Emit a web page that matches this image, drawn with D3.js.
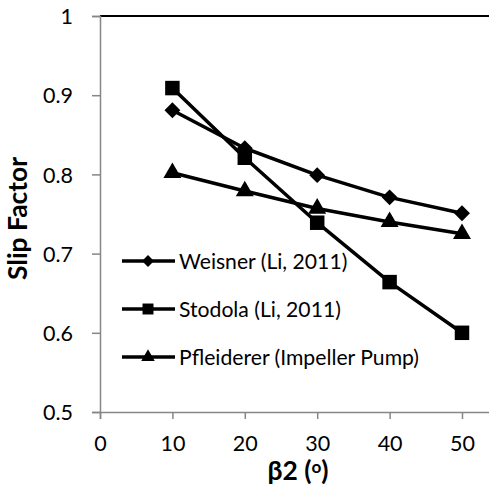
<!DOCTYPE html>
<html>
<head>
<meta charset="utf-8">
<script src="https://cdn.jsdelivr.net/npm/d3@7"></script>
<style>
  html, body { margin: 0; padding: 0; background: #fff; }
  svg { display: block; font-family: Lato, "Open Sans", sans-serif; }
</style>
</head>
<body>
<svg id="chart" width="489" height="485"></svg>
<script>
// Blade exit angle (degrees) and slip factor predicted by each model
const beta2 = [10, 20, 30, 40, 50];
const weisner = [0.881, 0.833, 0.799, 0.771, 0.751];
const stodola = [0.909, 0.821, 0.739, 0.664, 0.600];
const pfleiderer = [0.802, 0.779, 0.757, 0.740, 0.725];

const seriesNames = ["Weisner (Li, 2011)", "Stodola (Li, 2011)", "Pfleiderer (Impeller Pump)"];
const xTicks = [0, 10, 20, 30, 40, 50];
const yTicks = [0.5, 0.6, 0.7, 0.8, 0.9, 1];

const series = [
  { name: seriesNames[0], values: weisner, symbol: d3.symbolDiamond2 },
  { name: seriesNames[1], values: stodola, symbol: d3.symbolSquare },
  { name: seriesNames[2], values: pfleiderer, symbol: d3.symbolTriangle }
];

const svg = d3.select("#chart");
const plotLeft = 100, plotTop = 16, plotBottom = 412;
const tickStep = 72.4;

const x = d3.scaleLinear().domain([0, 60]).range([plotLeft, plotLeft + 6 * tickStep]);
const y = d3.scaleLinear().domain([0.5, 1]).range([plotBottom, plotTop]);

const axisGrey = "#868686";

// pick a font size so that a sample string spans the wanted width
function fitFontSize(text, weight, width) {
  const probe = svg.append("text").attr("font-size", 20).attr("font-weight", weight).text(text);
  const w = probe.node().getComputedTextLength();
  probe.remove();
  return 20 * width / w;
}
const fontSize = fitFontSize(seriesNames[2], "normal", 240);
const tickSize = 21.5;
const titleSize = fitFontSize("Slip Factor", "bold", 123);

// top boundary line at 1.0
svg.append("line")
  .attr("x1", plotLeft).attr("x2", 489)
  .attr("y1", y(1)).attr("y2", y(1))
  .attr("stroke", "#000").attr("stroke-width", 2);

// y axis
const yAxis = svg.append("g")
  .attr("transform", `translate(${plotLeft},0)`)
  .call(d3.axisLeft(y).tickValues(yTicks).tickSize(8).tickPadding(19)
    .tickFormat(d => d === 1 ? "1" : d3.format(".1f")(d)));
yAxis.select(".domain").attr("stroke", axisGrey).attr("stroke-width", 1.5);
yAxis.selectAll(".tick line").attr("stroke", axisGrey).attr("stroke-width", 1.5);
yAxis.selectAll(".tick text").attr("font-size", tickSize).attr("fill", "#000")
  .attr("font-family", "Lato, sans-serif").attr("x", -27).attr("dy", "0.36em");

// x axis
const xAxis = svg.append("g")
  .attr("transform", `translate(0,${plotBottom})`)
  .call(d3.axisBottom(x).tickValues(xTicks).tickSize(7).tickPadding(19));
xAxis.select(".domain").attr("stroke", axisGrey).attr("stroke-width", 1.5);
xAxis.selectAll(".tick line").attr("stroke", axisGrey).attr("stroke-width", 1.5);
xAxis.selectAll(".tick text").attr("font-size", tickSize).attr("fill", "#000")
  .attr("font-family", "Lato, sans-serif").attr("y", 38.5).attr("dy", 0);

// series lines and markers
const line = d3.line().x((d, i) => x(beta2[i])).y(d => y(d));
series.forEach(s => {
  svg.append("path")
    .attr("d", line(s.values))
    .attr("fill", "none").attr("stroke", "#000").attr("stroke-width", 3.5)
    .attr("stroke-linejoin", "round");
  const size = s.symbol === d3.symbolSquare ? 210 : (s.symbol === d3.symbolTriangle ? 140 : 160);
  svg.append("g").selectAll("path")
    .data(s.values)
    .join("path")
    .attr("d", d3.symbol(s.symbol, size))
    .attr("transform", (d, i) => `translate(${x(beta2[i])},${y(d)})`)
    .attr("fill", "#000");
});

// legend
const legend = svg.append("g");
const legendY = [261, 309, 357];
series.forEach((s, i) => {
  const g = legend.append("g").attr("transform", `translate(0,${legendY[i]})`);
  g.append("line").attr("x1", 122).attr("x2", 175).attr("y1", 0).attr("y2", 0)
    .attr("stroke", "#000").attr("stroke-width", 3.5);
  const size = s.symbol === d3.symbolSquare ? 120 : (s.symbol === d3.symbolTriangle ? 80 : 90);
  g.append("path").attr("d", d3.symbol(s.symbol, size))
    .attr("transform", "translate(148,0)").attr("fill", "#000");
  g.append("text").attr("x", 179).attr("y", 0).attr("dy", "0.36em")
    .attr("font-size", fontSize).text(s.name);
});

// axis titles
svg.append("text")
  .attr("transform", `translate(27,${(157 + 280) / 2}) rotate(-90)`)
  .attr("text-anchor", "middle")
  .attr("font-size", titleSize).attr("font-weight", "bold")
  .text("Slip Factor");

const xt = svg.append("text")
  .attr("x", 298).attr("y", 479.5)
  .attr("text-anchor", "middle")
  .attr("font-size", titleSize).attr("font-weight", "bold");
xt.append("tspan").text("β2 (");
xt.append("tspan").attr("font-size", titleSize * 0.65).attr("dy", -7).text("o");
xt.append("tspan").attr("dy", 7).text(")");
</script>
</body>
</html>
